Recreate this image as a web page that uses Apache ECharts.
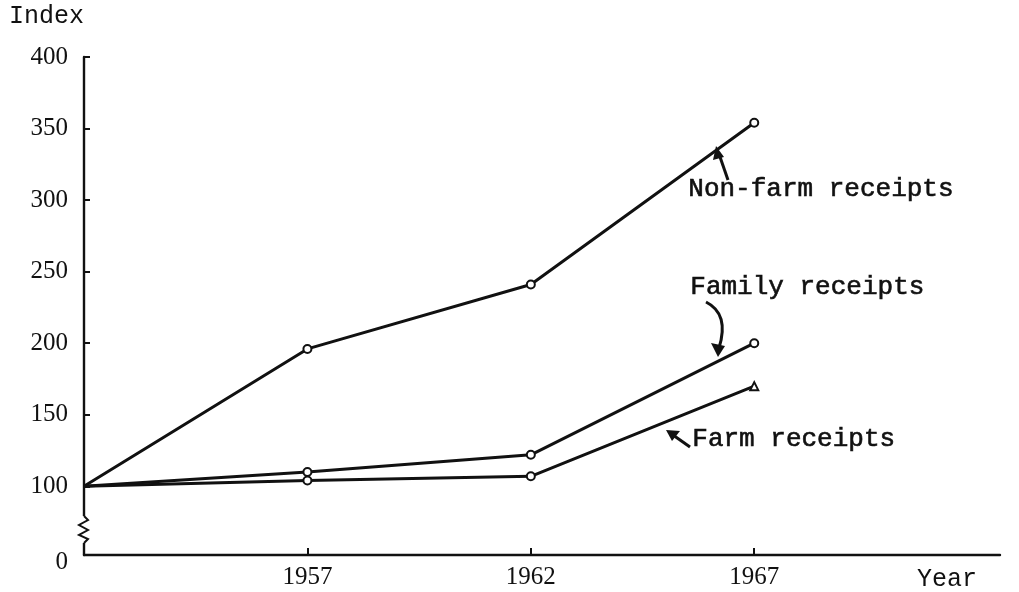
<!DOCTYPE html>
<html><head><meta charset="utf-8">
<script src="https://cdn.jsdelivr.net/npm/echarts@6/dist/echarts.min.js"></script>
<style>html,body{margin:0;padding:0;background:#fff}#c{width:1019px;height:592px}</style>
</head><body><div id="c"></div>
<script>
const years = [1952, 1957, 1962, 1967];
const tickYears = [1957, 1962, 1967];
const nonFarm = [100, 196, 241, 354];
const family = [100, 110, 122, 200];
const farm = [100, 104, 107, 170];
const yTicks = [100, 150, 200, 250, 300, 350, 400];
const yZeroPos = 52; // broken-axis position where "0" is drawn
const seriesNames = ['Non-farm receipts', 'Family receipts', 'Farm receipts'];

const INK = '#111';
const mono = '"Liberation Mono","DejaVu Sans Mono",monospace';
const serif = '"Liberation Serif","DejaVu Serif",serif';

function pts(vals, lastSym) {
  return vals.map((v, i) => {
    const d = { value: [years[i], v] };
    if (i === 0) d.symbol = 'none';
    if (i === vals.length - 1 && lastSym) d.symbol = lastSym;
    return d;
  });
}
function line(name, vals, lastSym) {
  return {
    name, type: 'line', data: pts(vals, lastSym),
    symbol: 'emptyCircle', symbolSize: 8,
    lineStyle: { color: INK, width: 3 },
    itemStyle: { color: INK, borderColor: INK, borderWidth: 2.6 },
    z: 5, silent: true
  };
}

const chart = echarts.init(document.getElementById('c'));
chart.setOption({
  animation: false,
  backgroundColor: '#fff',
  grid: { left: 84, top: 57, right: 19, bottom: 35 },
  xAxis: {
    type: 'value', min: 1952, max: 1972.5,
    name: 'Year', nameLocation: 'end', nameGap: -83,
    nameTextStyle: { fontFamily: mono, fontSize: 25, color: INK, verticalAlign: 'top', padding: [12, 0, 0, 0] },
    axisLine: { show: true, lineStyle: { color: INK, width: 2.4 } },
    axisTick: { show: true, inside: true, length: 7, customValues: tickYears, lineStyle: { color: INK, width: 2 } },
    axisLabel: { customValues: tickYears, fontFamily: serif, fontSize: 25, color: INK, margin: 10,
      formatter: v => String(v) },
    splitLine: { show: false }
  },
  yAxis: {
    type: 'value', min: yZeroPos, max: 400,
    name: 'Index', nameLocation: 'end', nameGap: 28,
    nameTextStyle: { fontFamily: mono, fontSize: 25, color: INK, align: 'right' },
    axisLine: { show: true, lineStyle: { color: INK, width: 2.4 } },
    axisTick: { show: true, inside: true, length: 6, customValues: yTicks, lineStyle: { color: INK, width: 2 } },
    axisLabel: {
      customValues: [yZeroPos].concat(yTicks), fontFamily: serif, fontSize: 25, color: INK, margin: 16,
      formatter: v => (v === yZeroPos ? '{z|0}' : String(v)),
      rich: { z: { fontFamily: serif, fontSize: 25, color: INK, padding: [14, 0, 0, 0] } }
    },
    splitLine: { show: false }
  },
  series: [
    line(seriesNames[0], nonFarm),
    line(seriesNames[1], family),
    line(seriesNames[2], farm, 'emptyTriangle')
  ],
  graphic: [
    // axis break
    { type: 'rect', shape: { x: 79, y: 516, width: 10, height: 27 }, style: { fill: '#fff' }, z: 50 },
    { type: 'polyline', shape: { points: [[84,516],[88,520],[79,525],[88,530],[79,535],[88,539],[84,543]] },
      style: { stroke: INK, lineWidth: 2, fill: null }, z: 51 },
    // annotations
    { type: 'text', left: 688, top: 176, style: { text: seriesNames[0], font: '26px ' + mono, fill: INK, stroke: INK, lineWidth: 0.6 }, z: 60 },
    { type: 'line', shape: { x1: 728, y1: 180, x2: 719, y2: 154 }, style: { stroke: INK, lineWidth: 3 }, z: 60 },
    { type: 'polygon', shape: { points: [[716,146],[713,160],[724,157]] }, style: { fill: INK }, z: 60 },

    { type: 'text', left: 690, top: 274, style: { text: seriesNames[1], font: '26px ' + mono, fill: INK, stroke: INK, lineWidth: 0.6 }, z: 60 },
    { type: 'bezierCurve', shape: { x1: 706, y1: 302, cpx1: 726, cpy1: 312, cpx2: 724, cpy2: 332, x2: 719, y2: 348 },
      style: { stroke: INK, lineWidth: 3, fill: null }, z: 60 },
    { type: 'polygon', shape: { points: [[718,357],[711,343],[725,346]] }, style: { fill: INK }, z: 60 },

    { type: 'text', left: 692, top: 426, style: { text: seriesNames[2], font: '26px ' + mono, fill: INK, stroke: INK, lineWidth: 0.6 }, z: 60 },
    { type: 'line', shape: { x1: 690, y1: 447, x2: 673, y2: 435 }, style: { stroke: INK, lineWidth: 3 }, z: 60 },
    { type: 'polygon', shape: { points: [[666,430],[680,431],[672,441]] }, style: { fill: INK }, z: 60 }
  ]
});
</script>
</body></html>
